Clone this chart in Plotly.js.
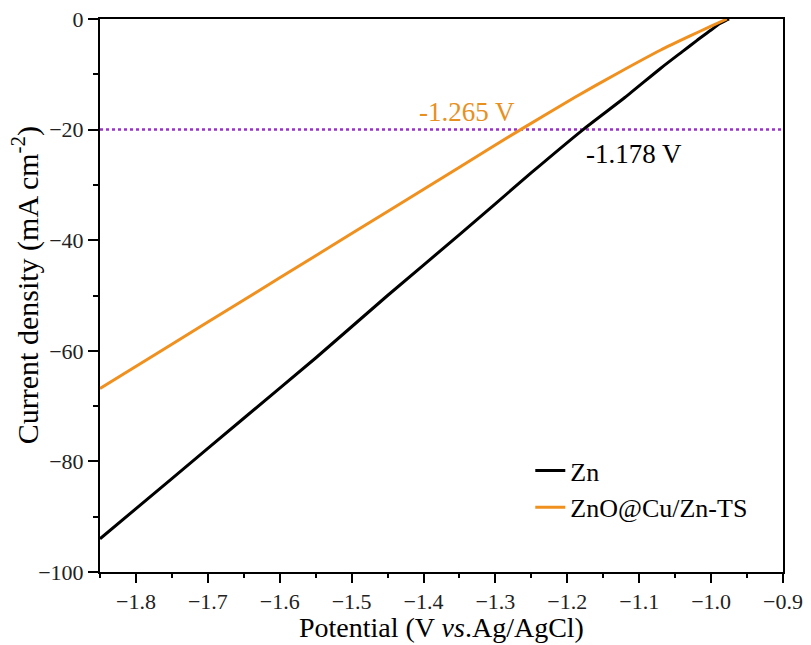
<!DOCTYPE html>
<html>
<head>
<meta charset="utf-8">
<script src="https://cdn.plot.ly/plotly-3.0.1.min.js"></script>
<style>
html, body { margin: 0; padding: 0; background: #fff; }
#chart { width: 811px; height: 645px; }
</style>
</head>
<body>
<div id="chart"></div>
<script>
// Data
const znPotential = [-1.85, -1.75, -1.65, -1.55, -1.45, -1.35, -1.25, -1.178, -1.12, -1.07, -1.04, -1.02, -1.0, -0.99, -0.98, -0.975];
const znCurrent   = [-94.0, -83.1, -72.2, -61.3, -50.0, -39.0, -27.8, -20.0, -14.2, -8.9, -5.9, -3.9, -2.0, -1.0, -0.3, 0];

const tsPotential = [-1.85, -1.75, -1.65, -1.55, -1.45, -1.35, -1.265, -1.19, -1.13, -1.07, -1.03, -1.0, -0.978];
const tsCurrent   = [-66.8, -58.8, -50.8, -42.8, -34.8, -26.8, -20.0, -14.2, -9.8, -5.6, -3.1, -1.3, 0];

const refPotential = [-1.85, -0.9];
const refCurrent = [-20, -20];

const seriesNames = ["Zn", "ZnO@Cu/Zn-TS"];
const markerLabels = ["-1.265 V", "-1.178 V"];
const markerPotential = [-1.339, -1.107];
const markerCurrent = [-16.9, -24.4];

const FONT = "Liberation Serif";

const traces = [
  { x: refPotential, y: refCurrent, mode: "lines", showlegend: false, hoverinfo: "skip",
    line: { color: "#9b30cc", width: 2.5, dash: "dot" } },
  { x: znPotential, y: znCurrent, mode: "lines", name: seriesNames[0],
    line: { color: "#000000", width: 3, shape: "spline", smoothing: 0.6 } },
  { x: tsPotential, y: tsCurrent, mode: "lines", name: seriesNames[1],
    line: { color: "#f0901e", width: 3, shape: "spline", smoothing: 0.6 } }
];

const layout = {
  width: 811, height: 645,
  margin: { l: 100, r: 28, t: 19, b: 73 },
  paper_bgcolor: "#fff", plot_bgcolor: "#fff",
  font: { family: FONT, color: "#000", size: 22 },
  xaxis: {
    showline: true, linecolor: "#000", linewidth: 2, mirror: true,
    ticks: "outside", tickcolor: "#000", tickwidth: 2, ticklen: 9,
    showgrid: false, zeroline: false,
    tickfont: { family: FONT, size: 22, color: "#222" },
    range: [-1.85, -0.9], dtick: 0.1, tick0: -1.8, tickformat: ".1f",
    minor: { dtick: 0.05, tick0: -1.85, ticks: "outside", ticklen: 4, tickwidth: 2, tickcolor: "#000" }
  },
  yaxis: {
    showline: true, linecolor: "#000", linewidth: 2, mirror: true,
    ticks: "outside", tickcolor: "#000", tickwidth: 2, ticklen: 10,
    showgrid: false, zeroline: false,
    tickfont: { family: FONT, size: 22, color: "#222" },
    range: [-100, 0], dtick: 20,
    minor: { dtick: 10, ticks: "outside", ticklen: 5, tickwidth: 2, tickcolor: "#000" }
  },
  showlegend: true,
  legend: {
    x: 0.63, y: 0.226, xanchor: "left", yanchor: "top",
    bgcolor: "rgba(0,0,0,0)", borderwidth: 0,
    font: { family: FONT, size: 26, color: "#000" }
  },
  annotations: [
    { x: markerPotential[0], y: markerCurrent[0], xref: "x", yref: "y", text: markerLabels[0],
      showarrow: false, font: { family: FONT, size: 27, color: "#e8901e" } },
    { x: markerPotential[1], y: markerCurrent[1], xref: "x", yref: "y", text: markerLabels[1],
      showarrow: false, font: { family: FONT, size: 27, color: "#000" } },
    { x: 0.5007, y: -0.0995, xref: "paper", yref: "paper", xanchor: "center", yanchor: "middle",
      text: "Potential (V <i>vs</i>.Ag/AgCl)", showarrow: false,
      font: { family: FONT, size: 28, color: "#000" } },
    { x: -0.108, y: 0.519, xref: "paper", yref: "paper", xanchor: "center", yanchor: "middle",
      textangle: -90, text: "Current density (mA cm<sup>-2</sup>)", showarrow: false,
      font: { family: FONT, size: 30, color: "#000" } }
  ]
};

Plotly.newPlot("chart", traces, layout, { displayModeBar: false, staticPlot: true });
</script>
</body>
</html>
